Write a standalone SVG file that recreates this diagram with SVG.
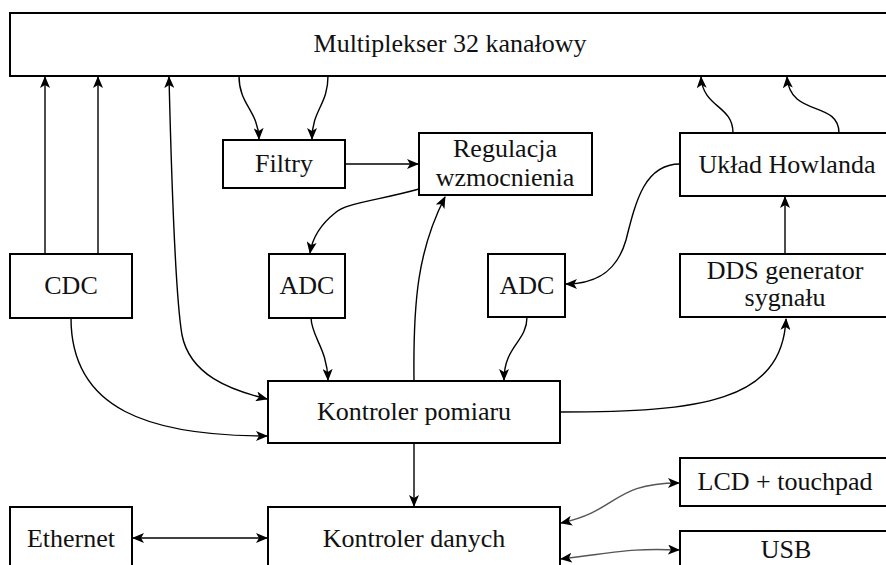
<svg xmlns="http://www.w3.org/2000/svg" width="886" height="565" viewBox="0 0 886 565">
  <style>
    .box { fill: #fff; stroke: #000; stroke-width: 2; }
    .lbl { font-family: "Liberation Serif", "DejaVu Serif", serif; font-size: 26px; fill: #111; text-anchor: middle; }
    .wire { fill: none; stroke: #000; stroke-width: 1.4; }
    .wire.grey { stroke: #555; }
    .to { marker-end: url(#head); }
    .both { marker-start: url(#head); marker-end: url(#head); }
  </style>
  <defs>
    <marker id="head" viewBox="0 0 12 10" refX="11" refY="5" markerWidth="12" markerHeight="10" markerUnits="userSpaceOnUse" orient="auto-start-reverse">
      <path d="M0,0 L12,5 L0,10 L3,5 z" fill="#000"/>
    </marker>
  </defs>
  <rect width="886" height="565" fill="#fff"/>

  <g id="connectors">
    <!-- CDC up to multiplexer -->
    <path class="wire to" d="M45,254 V77"/>
    <path class="wire to" d="M98,254 V77"/>
    <!-- multiplexer <-> measurement controller -->
    <path class="wire both" d="M169,77 C172,200 176,300 182,335 C190,375 230,390 267,399"/>
    <!-- multiplexer to filters -->
    <path class="wire to" d="M239,76 C239,105 258,110 259,139"/>
    <path class="wire to" d="M328,76 C328,105 312,110 312,139"/>
    <!-- filters to gain control -->
    <path class="wire to" d="M345,164 H418"/>
    <!-- gain control to ADC -->
    <path class="wire to" d="M419,189 C380,200 345,203 335,213 C320,225 312,240 310,253"/>
    <!-- ADC to measurement controller -->
    <path class="wire to" d="M311,318 C312,338 327,348 328,380"/>
    <!-- measurement controller to gain control -->
    <path class="wire to" d="M414,381 C413,300 418,250 445,197"/>
    <!-- CDC to measurement controller -->
    <path class="wire to" d="M71,318 C71,410 150,436 267,436"/>
    <!-- Howland to ADC -->
    <path class="wire to" d="M680,164 C645,164 636,200 626,240 C616,275 592,284 566,284"/>
    <!-- ADC to measurement controller -->
    <path class="wire to" d="M527,317 C527,342 504,346 504,380"/>
    <!-- DDS to Howland -->
    <path class="wire to" d="M785,254 V197"/>
    <!-- measurement controller to DDS -->
    <path class="wire to" d="M560,412 C700,412 782,402 786,319"/>
    <!-- Howland to multiplexer -->
    <path class="wire to" d="M733,133 C733,105 703,108 701,77"/>
    <path class="wire to" d="M839,133 C839,100 790,118 787,77"/>
    <!-- measurement controller to data controller -->
    <path class="wire to" d="M414,443 V506"/>
    <!-- Ethernet <-> data controller -->
    <path class="wire both" d="M133,538 H267"/>
    <!-- data controller <-> LCD, USB -->
    <path class="wire grey both" d="M561,523 C620,510 612,483 679,483"/>
    <path class="wire grey both" d="M561,559 C620,552 630,548 679,550"/>
  </g>

  <g id="mux">
    <rect class="box" x="10" y="13" width="884" height="63"/>
    <text class="lbl" x="450" y="52">Multiplekser 32 kanałowy</text>
  </g>
  <g id="filtry">
    <rect class="box" x="223" y="140" width="122" height="48"/>
    <text class="lbl" x="284" y="172">Filtry</text>
  </g>
  <g id="regulacja">
    <rect class="box" x="419" y="133" width="173" height="62"/>
    <text class="lbl" x="505" y="157">Regulacja</text>
    <text class="lbl" x="505" y="186">wzmocnienia</text>
  </g>
  <g id="howland">
    <rect class="box" x="680" y="133" width="214" height="63"/>
    <text class="lbl" x="787" y="173">Układ Howlanda</text>
  </g>
  <g id="cdc">
    <rect class="box" x="10" y="254" width="122" height="64"/>
    <text class="lbl" x="71" y="294">CDC</text>
  </g>
  <g id="adc1">
    <rect class="box" x="269" y="254" width="76" height="64"/>
    <text class="lbl" x="307" y="294">ADC</text>
  </g>
  <g id="adc2">
    <rect class="box" x="488" y="254" width="77" height="63"/>
    <text class="lbl" x="527" y="294">ADC</text>
  </g>
  <g id="dds">
    <rect class="box" x="680" y="254" width="214" height="63"/>
    <text class="lbl" x="785" y="279">DDS generator</text>
    <text class="lbl" x="785" y="306">sygnału</text>
  </g>
  <g id="kontroler-pomiaru">
    <rect class="box" x="268" y="381" width="292" height="62"/>
    <text class="lbl" x="414" y="420">Kontroler pomiaru</text>
  </g>
  <g id="ethernet">
    <rect class="box" x="10" y="507" width="122" height="70"/>
    <text class="lbl" x="71" y="547">Ethernet</text>
  </g>
  <g id="kontroler-danych">
    <rect class="box" x="268" y="507" width="292" height="70"/>
    <text class="lbl" x="414" y="547">Kontroler danych</text>
  </g>
  <g id="lcd">
    <rect class="box" x="680" y="458" width="214" height="48"/>
    <text class="lbl" x="785" y="490">LCD + touchpad</text>
  </g>
  <g id="usb">
    <rect class="box" x="680" y="531" width="214" height="50"/>
    <text class="lbl" x="786" y="558">USB</text>
  </g>
</svg>
